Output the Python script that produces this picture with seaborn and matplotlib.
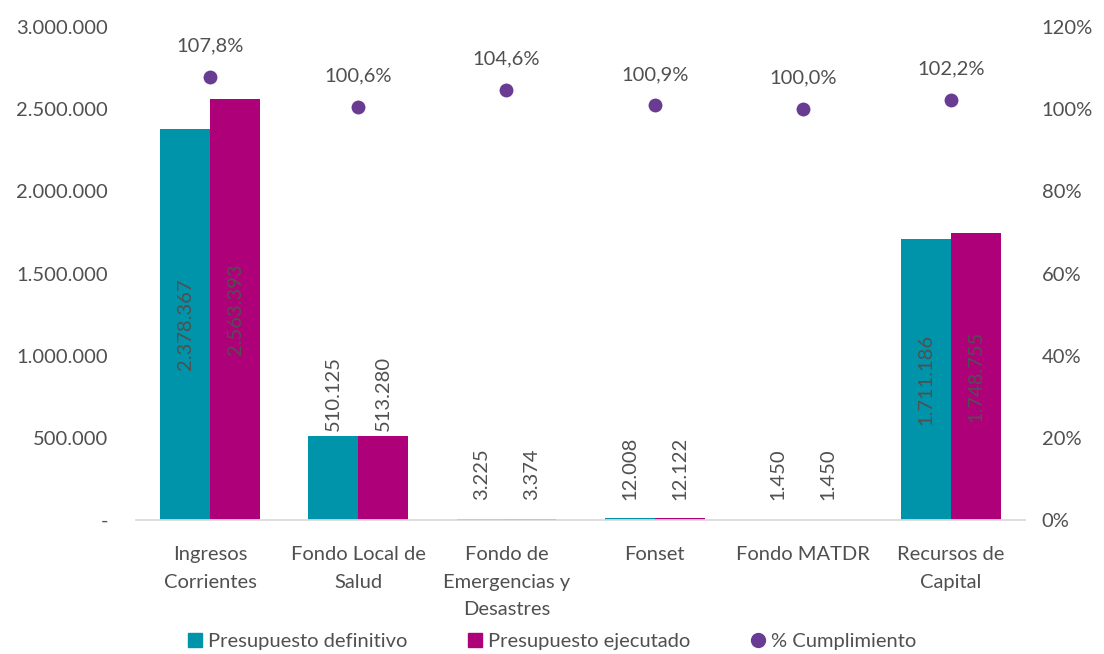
import numpy as np
import pandas as pd
import seaborn as sns
import matplotlib
matplotlib.use("Agg")
import matplotlib.pyplot as plt
from matplotlib.ticker import FuncFormatter, FixedLocator
from matplotlib.patches import Patch
from matplotlib.lines import Line2D

# datos del gráfico
categorias = ["Ingresos\nCorrientes", "Fondo Local de\nSalud", "Fondo de\nEmergencias y\nDesastres",
              "Fonset", "Fondo MATDR", "Recursos de\nCapital"]
definitivo = [2378367, 510125, 3225, 12008, 1450, 1711186]
ejecutado = [2563393, 513280, 3374, 12122, 1450, 1748755]
cumplimiento = [107.8, 100.6, 104.6, 100.9, 100.0, 102.2]
series = ["Presupuesto definitivo", "Presupuesto ejecutado"]

c_def = "#0094AB"
c_eje = "#AE0079"
c_pct = "#6A3B93"
gris = "#505050"
fs = 14.5

sns.set_theme(style="white")
plt.rcParams["font.family"] = ["Lato", "DejaVu Sans"]

df = pd.DataFrame({
    "categoria": categorias * 2,
    "serie": [series[0]] * len(categorias) + [series[1]] * len(categorias),
    "valor": definitivo + ejecutado,
})

fig = plt.figure(figsize=(11.04, 6.54), dpi=100)
ax = fig.add_axes([0.1232, 0.2049, 0.8053, 0.7538])

sns.barplot(data=df, x="categoria", y="valor", hue="serie", order=categorias,
            palette=[c_def, c_eje], width=0.674, saturation=1, linewidth=0,
            ax=ax, legend=False)

ax.set_ylim(0, 3000000)
ax.set_xlim(-0.5, len(categorias) - 0.5)
ax.yaxis.set_major_locator(FixedLocator(np.arange(0, 3000001, 500000)))
ax.yaxis.set_major_formatter(FuncFormatter(
    lambda v, p: "-" if v == 0 else f"{int(v):,}".replace(",", ".")))
ax.set_xlabel("")
ax.set_ylabel("")
ax.tick_params(axis="both", length=0, labelsize=fs, labelcolor=gris)
ax.tick_params(axis="y", pad=20)
ax.tick_params(axis="x", pad=19)
for lbl in ax.get_xticklabels():
    lbl.set_linespacing(1.75)
    lbl.set_va("top")
for s in ["top", "right", "left"]:
    ax.spines[s].set_visible(False)
ax.spines["bottom"].set_color("#D9D9D9")

# etiquetas de valores
fmt = lambda v: f"{v:,}".replace(",", ".")
for cont in ax.containers:
    for rect in cont:
        h = rect.get_height()
        xc = rect.get_x() + rect.get_width() / 2
        if h > 1000000:
            ax.text(xc, h / 2, fmt(int(round(h))), rotation=90, ha="center", va="center",
                    fontsize=fs, color=gris)
        else:
            ax.text(xc, max(h + 30000, 120000), fmt(int(round(h))), rotation=90,
                    ha="center", va="bottom", fontsize=fs, color=gris)

ax2 = ax.twinx()
pdf = pd.DataFrame({"categoria": categorias, "pct": cumplimiento})
sns.stripplot(data=pdf, x="categoria", y="pct", order=categorias, jitter=False,
              color=c_pct, size=10, ax=ax2)
ax2.set_ylim(0, 120)
ax2.set_xlim(-0.5, len(categorias) - 0.5)
ax2.yaxis.set_major_locator(FixedLocator(np.arange(0, 121, 20)))
ax2.yaxis.set_major_formatter(FuncFormatter(lambda v, p: f"{int(v)}%"))
ax2.set_ylabel("")
ax2.tick_params(axis="y", length=0, labelsize=fs, labelcolor=gris, pad=12)
for s in ["top", "right", "left", "bottom"]:
    ax2.spines[s].set_visible(False)
for i, v in enumerate(cumplimiento):
    ax2.text(i, v + 5.5, f"{v:.1f}%".replace(".", ","), ha="center", va="bottom",
             fontsize=fs, color=gris)

handles = [Patch(color=c_def, label=series[0]),
           Patch(color=c_eje, label=series[1]),
           Line2D([], [], marker="o", linestyle="", color=c_pct, markersize=10,
                  label="% Cumplimiento")]
fig.legend(handles=handles, loc="lower center", bbox_to_anchor=(0.5, -0.022), ncol=3,
           frameon=False, fontsize=fs, labelcolor=gris, handlelength=0.7,
           handleheight=0.7, handletextpad=0.3, columnspacing=3.0)

fig.savefig("out.png", dpi=100)
